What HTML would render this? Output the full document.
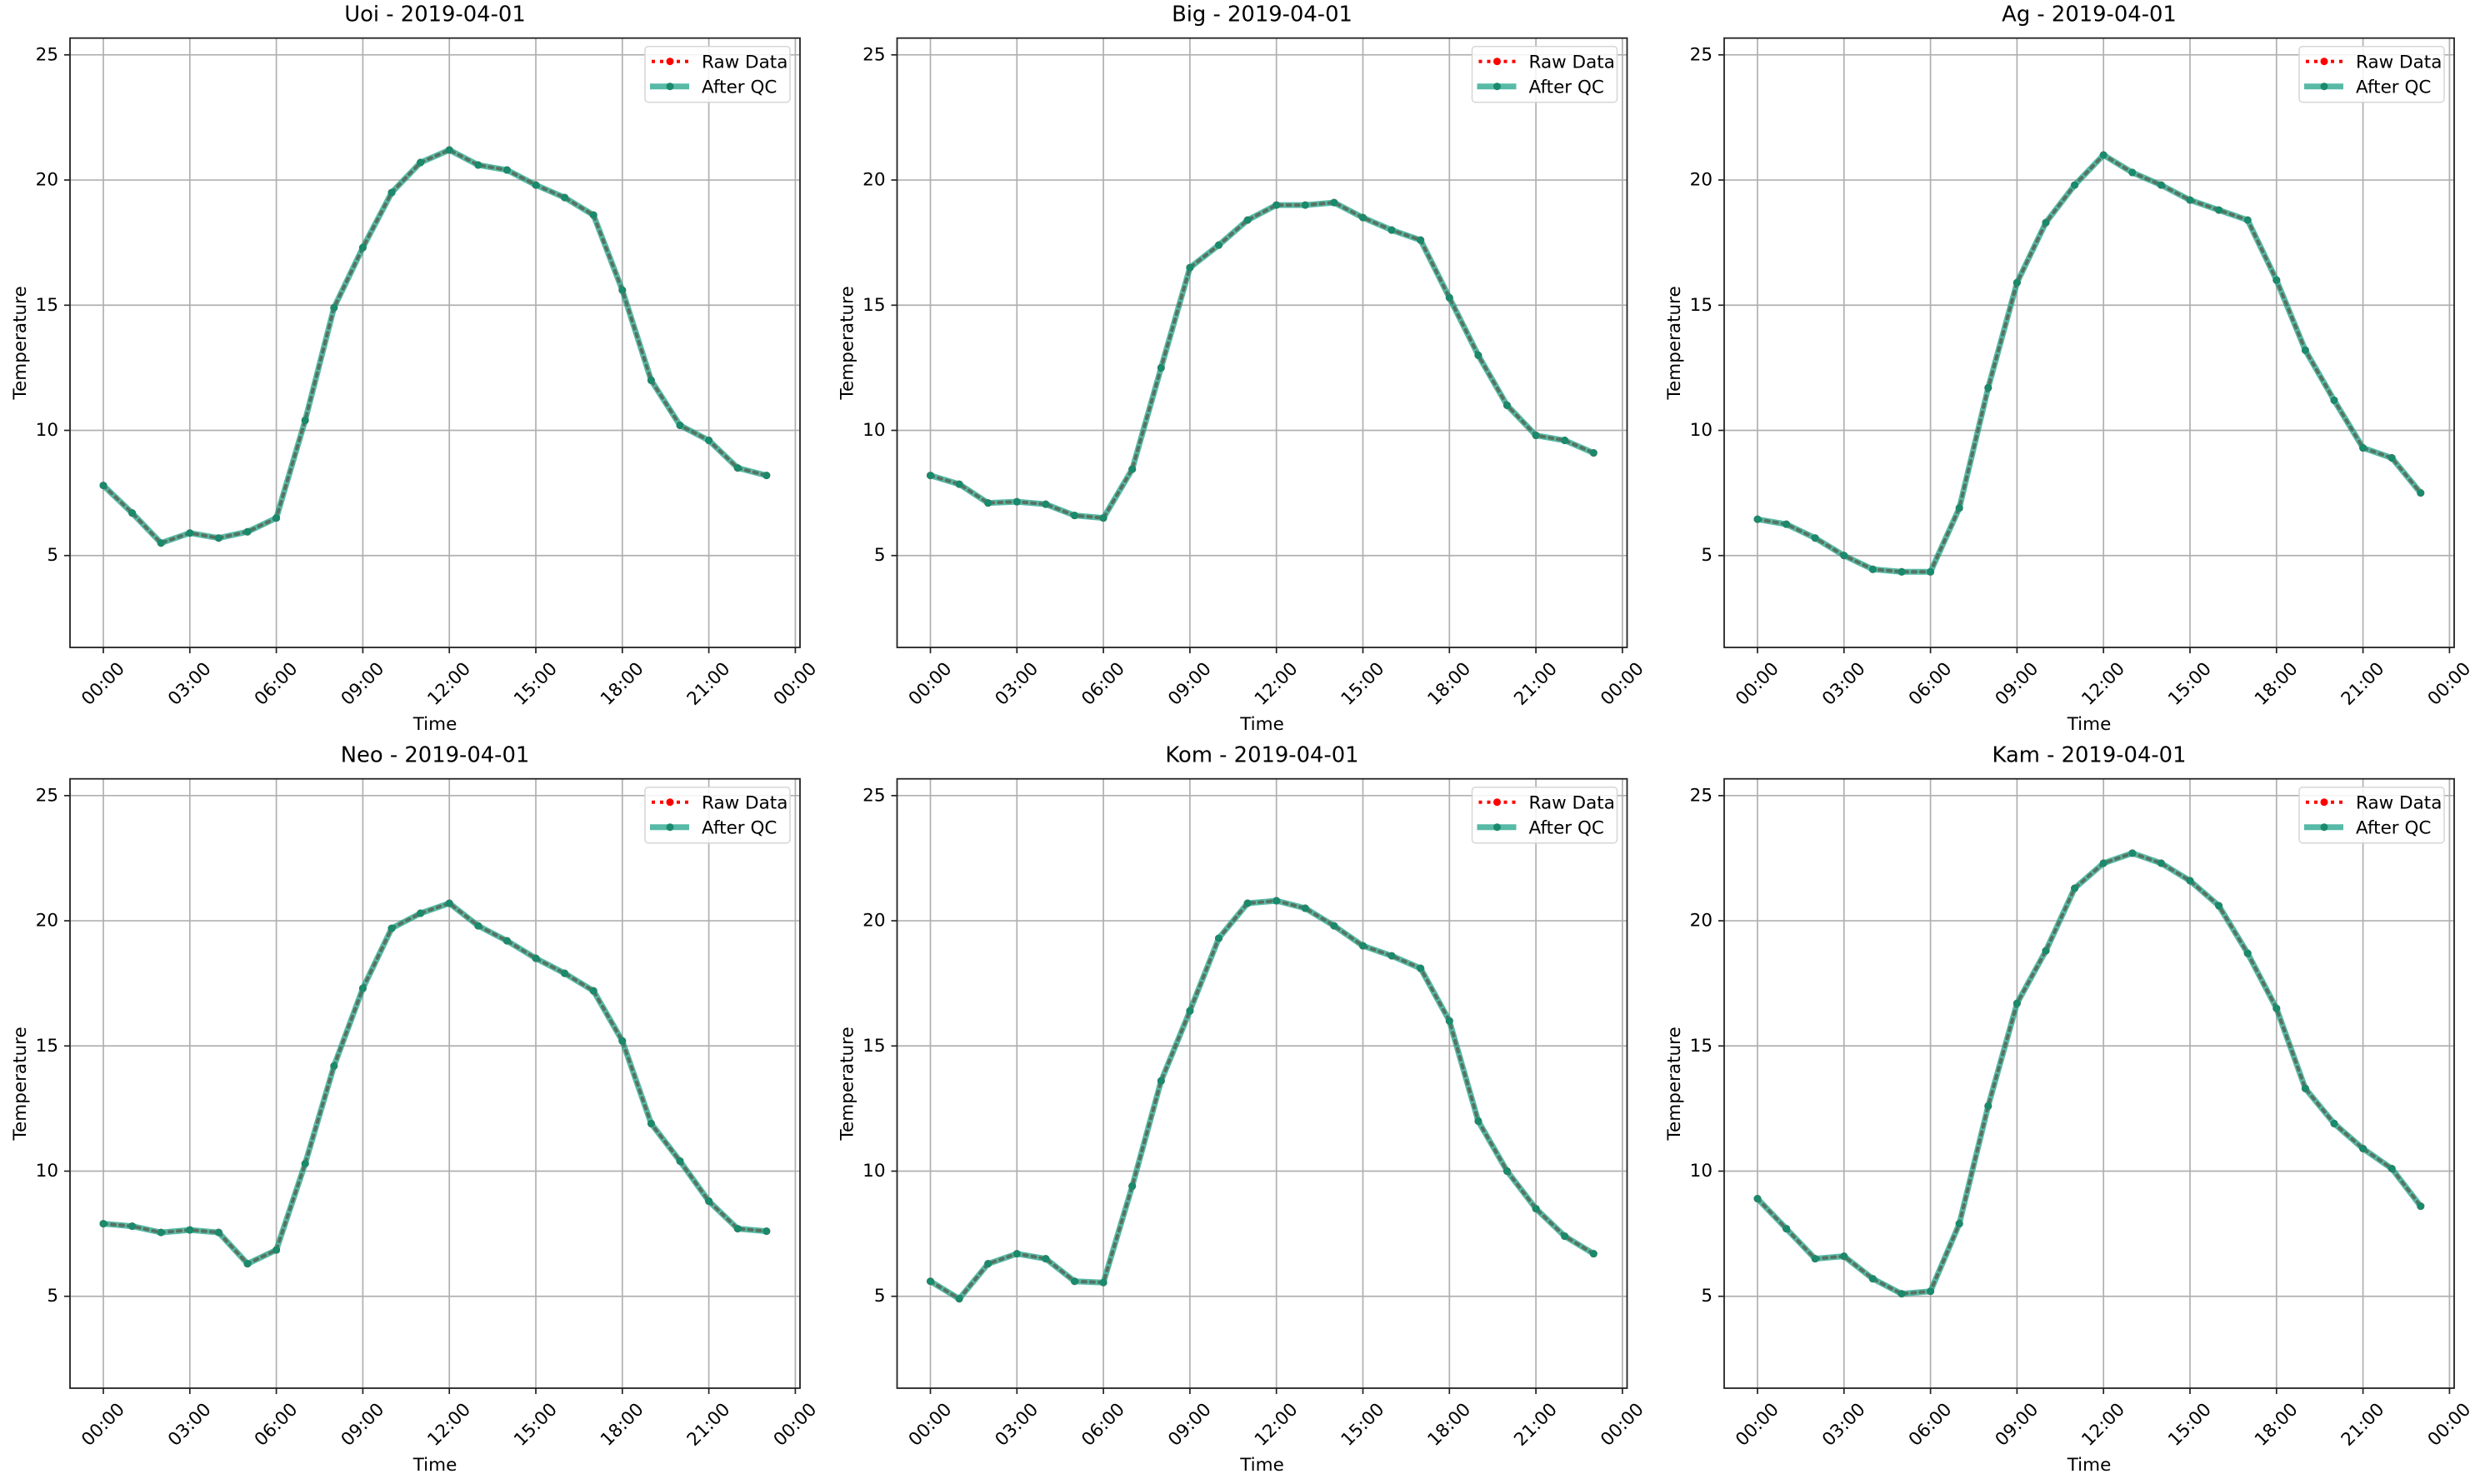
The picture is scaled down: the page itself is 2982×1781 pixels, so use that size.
<!DOCTYPE html>
<html><head><meta charset="utf-8"><style>
html,body{margin:0;padding:0;background:#fff}
svg{display:block;font-family:"DejaVu Sans","Liberation Sans",sans-serif}
</style></head><body>
<svg id="fig" width="2982" height="1781" viewBox="0 0 2982 1781" xmlns="http://www.w3.org/2000/svg"></svg>
<script>
const stations = ["Uoi","Big","Ag","Neo","Kom","Kam"];
const dateLabel = "2019-04-01";
const hours = [0,1,2,3,4,5,6,7,8,9,10,11,12,13,14,15,16,17,18,19,20,21,22,23];
const tempUoi = [7.8,6.7,5.5,5.9,5.7,5.95,6.5,10.4,14.9,17.3,19.5,20.7,21.2,20.6,20.4,19.8,19.3,18.6,15.6,12.0,10.2,9.6,8.5,8.2];
const tempBig = [8.2,7.85,7.1,7.15,7.05,6.6,6.5,8.45,12.5,16.5,17.4,18.4,19.0,19.0,19.1,18.5,18.0,17.6,15.3,13.0,11.0,9.8,9.6,9.1];
const tempAg = [6.45,6.25,5.7,5.0,4.45,4.35,4.35,6.9,11.7,15.9,18.3,19.8,21.0,20.3,19.8,19.2,18.8,18.4,16.0,13.2,11.2,9.3,8.9,7.5];
const tempNeo = [7.9,7.8,7.55,7.65,7.55,6.3,6.85,10.3,14.2,17.3,19.7,20.3,20.7,19.8,19.2,18.5,17.9,17.2,15.2,11.9,10.4,8.8,7.7,7.6];
const tempKom = [5.6,4.9,6.3,6.7,6.5,5.6,5.55,9.4,13.6,16.4,19.3,20.7,20.8,20.5,19.8,19.0,18.6,18.1,16.0,12.0,10.0,8.5,7.4,6.7];
const tempKam = [8.9,7.7,6.5,6.6,5.7,5.1,5.2,7.9,12.6,16.7,18.8,21.3,22.3,22.7,22.3,21.6,20.6,18.7,16.5,13.3,11.9,10.9,10.1,8.6];
const yTicks = [5,10,15,20,25];
const xTickHours = [0,3,6,9,12,15,18,21,24];
const xTickLabels = ["00:00","03:00","06:00","09:00","12:00","15:00","18:00","21:00","00:00"];

const series = [tempUoi,tempBig,tempAg,tempNeo,tempKom,tempKam];
const NS="http://www.w3.org/2000/svg";
const svg=document.getElementById('fig');
function mk(tag,attrs,parent){const e=document.createElementNS(NS,tag);for(const k in attrs)e.setAttribute(k,attrs[k]);(parent||svg).appendChild(e);return e;}
const AW=876, AH=731.3, YMIN=1.33, YMAX=25.67;
for(let p=0;p<6;p++){
  const col=p%3,row=Math.floor(p/3);
  const L=84+col*992.5, T=45.7+row*889, R=L+AW, B=T+AH;
  const xs=h=>L+40+h*34.6;
  const ys=v=>B-(v-YMIN)/(YMAX-YMIN)*AH;
  const g=mk('g',{});
  
  
  // grid
  xTickHours.forEach((h,i)=>{
    const x=xs(h);
    const gl=mk('line',{x1:x,x2:x,y1:T,y2:B,stroke:'#b0b0b0','stroke-width':1.7},g);
    
    
    const tk=mk('line',{x1:x,x2:x,y1:B,y2:B+7,stroke:'#222','stroke-width':1.7},g);
    
    
    const t=mk('text',{x:0,y:0,'font-size':21.5,'text-anchor':'middle','dominant-baseline':'central',fill:'#000',transform:`translate(${x},${B+44}) rotate(-45)`},g);
    t.textContent=xTickLabels[i];
    
    
  });
  yTicks.forEach(v=>{
    const y=ys(v);
    const gl=mk('line',{x1:L,x2:R,y1:y,y2:y,stroke:'#b0b0b0','stroke-width':1.7},g);
    
    
    const tk=mk('line',{x1:L-7,x2:L,y1:y,y2:y,stroke:'#222','stroke-width':1.7},g);
    
    
    const t=mk('text',{x:L-14,y:y,'font-size':21.5,'text-anchor':'end','dominant-baseline':'central',fill:'#000'},g);
    t.textContent=v;
    
    
  });
  const data=series[p];
  const pts=hours.map((h,i)=>xs(h)+','+ys(data[i])).join(' ');
  // raw data
  const raw=mk('polyline',{points:pts,fill:'none',stroke:'#ff0000','stroke-width':4,'stroke-dasharray':'4 6','stroke-linecap':'round'},g);
  
  
  hours.forEach((h,i)=>{
    const c=mk('circle',{cx:xs(h),cy:ys(data[i]),r:4.5,fill:'#ff0000'},g);
    
    
  });
  const qc=mk('polyline',{points:pts,fill:'none',stroke:'#16a085','stroke-width':7,'stroke-opacity':0.72,'stroke-linejoin':'round'},g);
  
  
  hours.forEach((h,i)=>{
    const c=mk('circle',{cx:xs(h),cy:ys(data[i]),r:4.5,fill:'#1a8a6c'},g);
    
    
  });
  // frame
  const fr=mk('rect',{x:L,y:T,width:AW,height:AH,fill:'none',stroke:'#222','stroke-width':1.8},g);
  
  
  // title
  const ti=mk('text',{x:L+AW/2,y:T-20,'font-size':25.8,'text-anchor':'middle',fill:'#000'},g);
  ti.textContent=stations[p]+' - '+dateLabel;
  
  
  const xl=mk('text',{x:L+AW/2,y:B+99,'font-size':21.5,'text-anchor':'middle',fill:'#000'},g);
  xl.textContent='Time';
  
  
  const yl=mk('text',{x:0,y:0,'font-size':21.5,'text-anchor':'middle',fill:'#000',transform:`translate(${L-53},${T+AH/2}) rotate(-90)`},g);
  yl.textContent='Temperature';
  
  
  // legend
  const lg=mk('g',{},g);
  
  
  const lx=R-186, ly=T+10;
  mk('rect',{x:lx,y:ly,width:174,height:67,rx:4,fill:'#fff','fill-opacity':0.85,stroke:'#d6d6d6','stroke-width':1.5},lg);
  const e1=mk('g',{},lg);
  
  
  mk('line',{x1:lx+8,x2:lx+53,y1:ly+18,y2:ly+18,stroke:'#ff0000','stroke-width':4,'stroke-dasharray':'4 6'},e1);
  mk('circle',{cx:lx+30,cy:ly+18,r:4.5,fill:'#ff0000'},e1);
  const t1=mk('text',{x:lx+68,y:ly+26,'font-size':21.5,fill:'#000'},e1);
  t1.textContent='Raw Data';
  const e2=mk('g',{},lg);
  
  
  mk('line',{x1:lx+6,x2:lx+53,y1:ly+48,y2:ly+48,stroke:'#16a085','stroke-width':7,'stroke-opacity':0.72},e2);
  mk('circle',{cx:lx+30,cy:ly+48,r:4.5,fill:'#1a8a6c'},e2);
  const t2=mk('text',{x:lx+68,y:ly+56,'font-size':21.5,fill:'#000'},e2);
  t2.textContent='After QC';
}
</script>
</body></html>
